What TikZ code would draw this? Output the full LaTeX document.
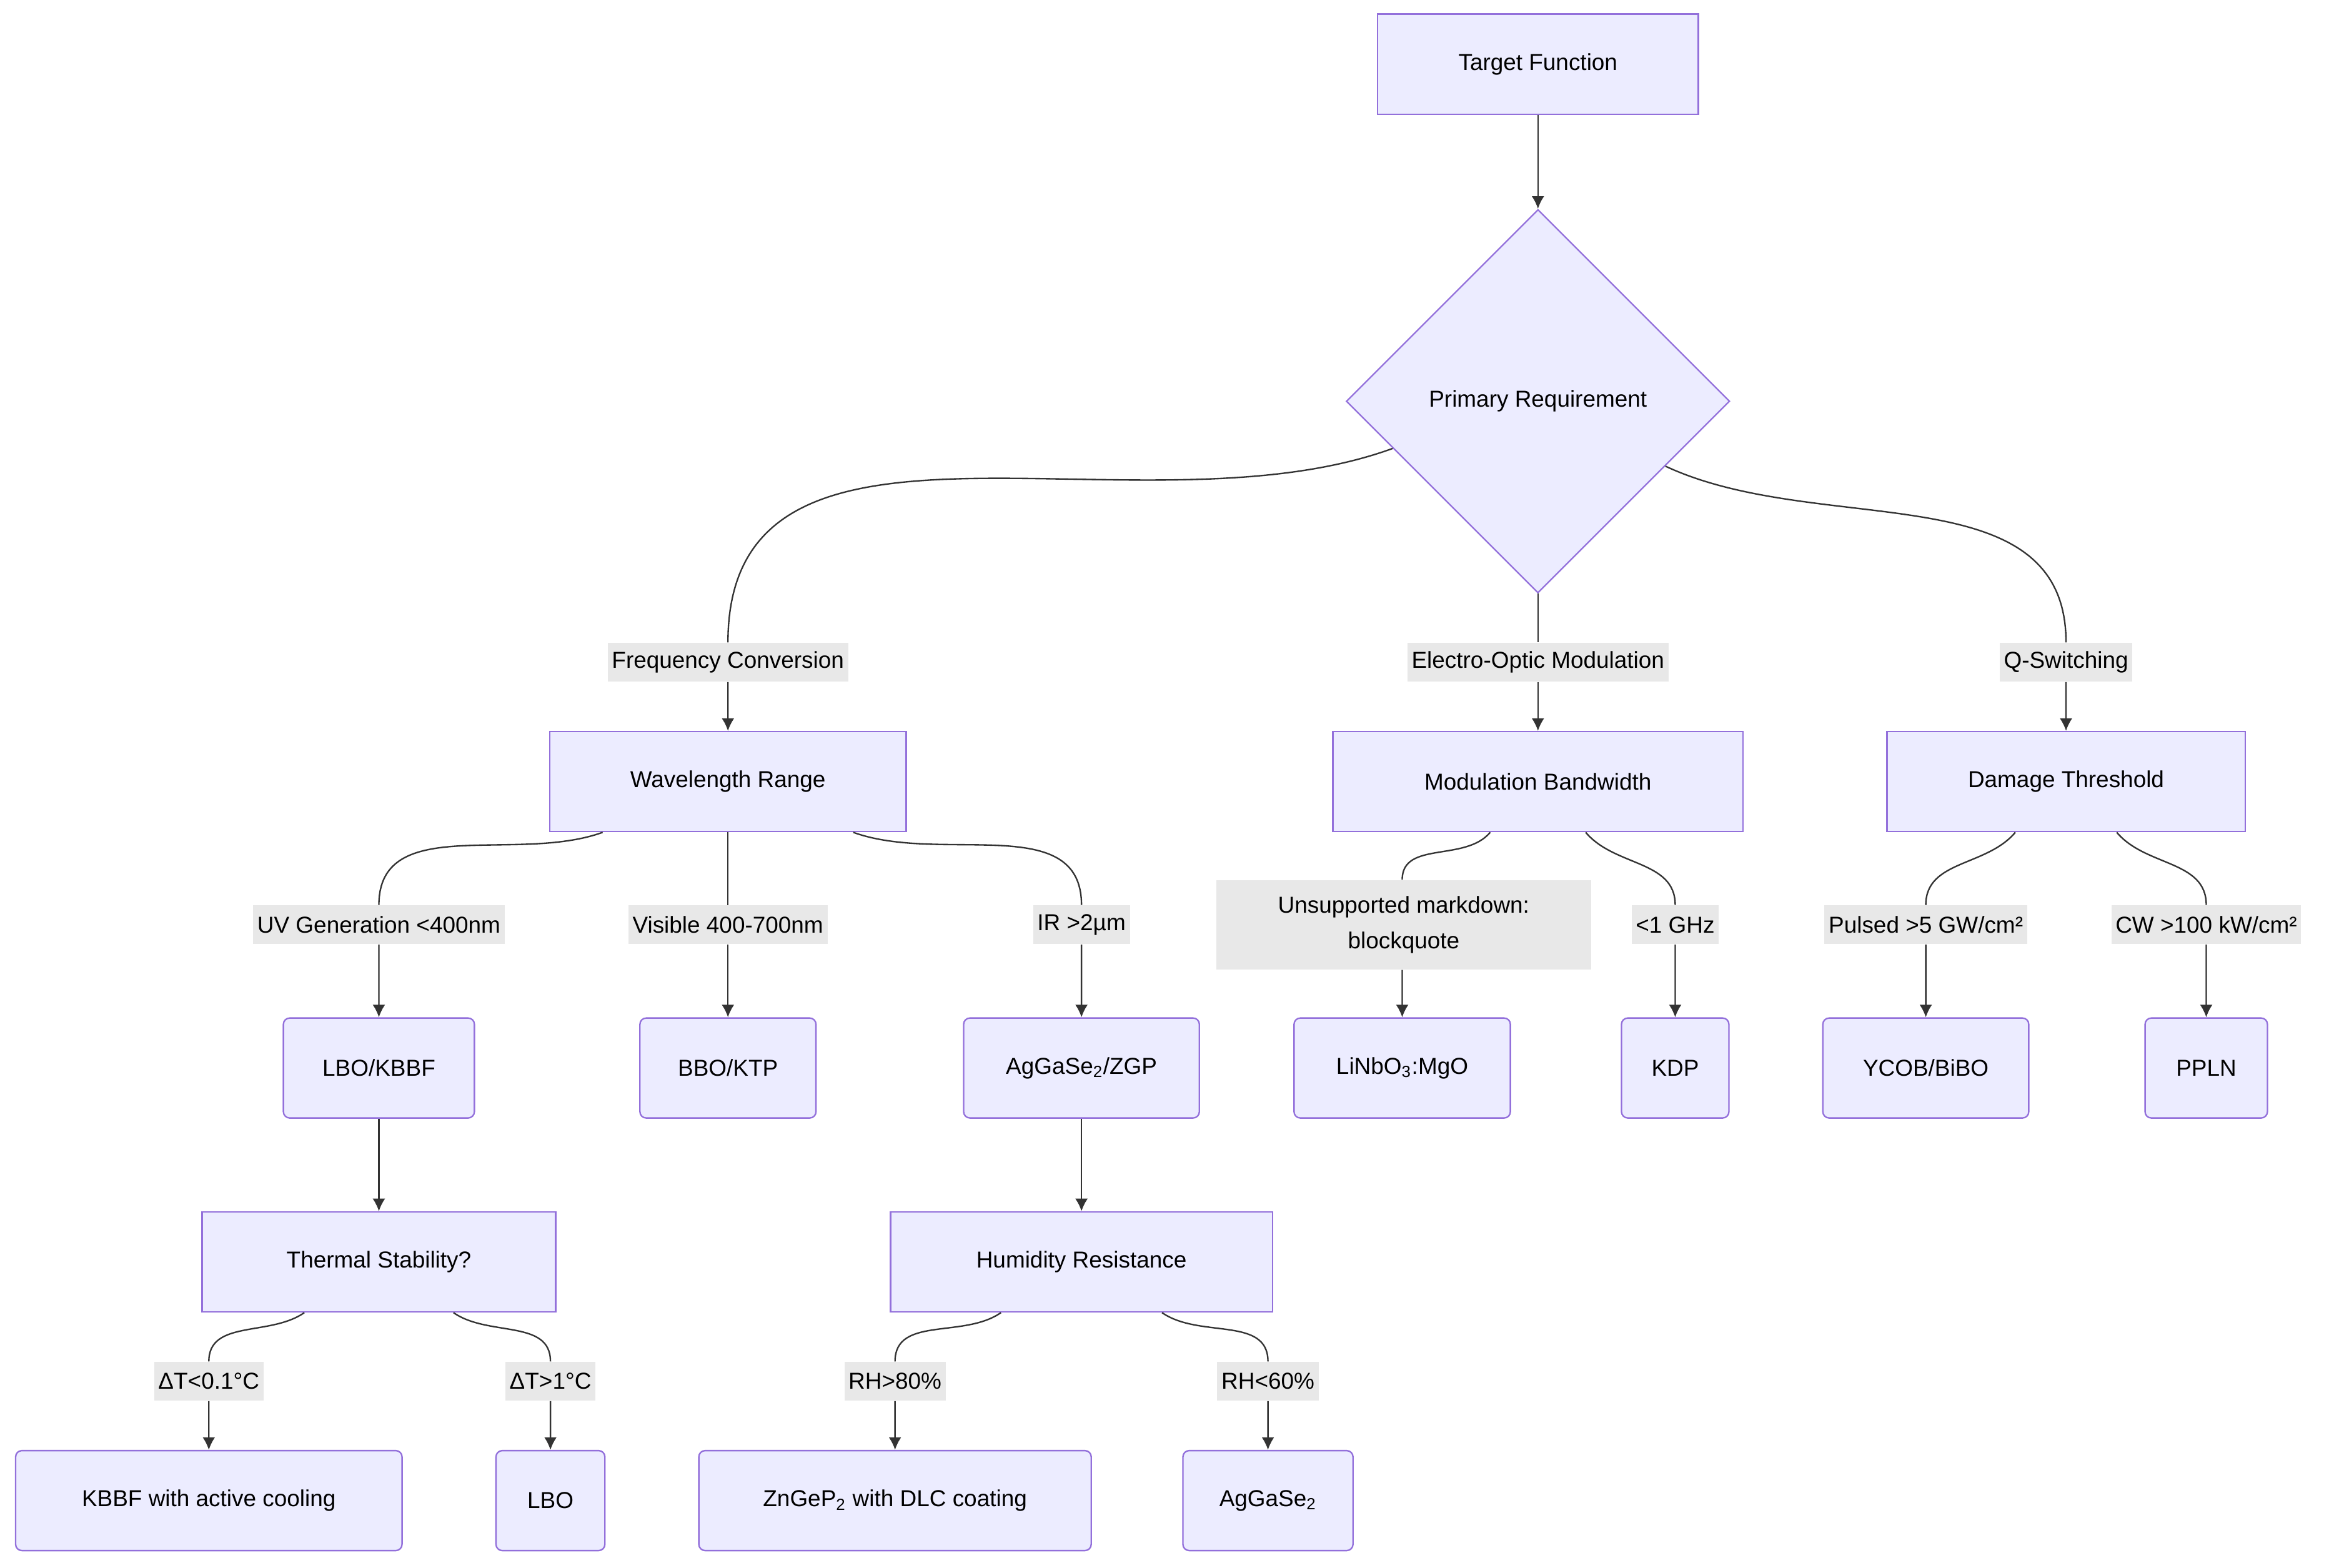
\documentclass[tikz,border=0pt]{standalone}
\usepackage{fontspec}
\setmainfont{Liberation Sans}
\usetikzlibrary{shapes.geometric,arrows.meta,calc,positioning}
\definecolor{boxfill}{HTML}{ECECFF}
\definecolor{boxline}{HTML}{9370DB}
\definecolor{lblfill}{HTML}{E8E8E8}
\definecolor{edgecol}{HTML}{333333}
\begin{document}
\begin{tikzpicture}[x=0.025cm,y=0.025cm,font=\fontsize{11}{17}\selectfont]

\tikzset{box/.style={fill=boxfill, draw=boxline, line width=0.7pt, minimum height=1.675cm, inner sep=2pt}}
\tikzset{leaf/.style={box, rounded corners=3pt}}
\tikzset{dec/.style={box, diamond, aspect=1, minimum width=6.425cm, minimum height=6.425cm, inner sep=0pt}}
\tikzset{lbl/.style={fill=lblfill, inner sep=2pt, minimum height=0.65cm, align=center}}
\tikzset{arrow/.style={-{Latex[length=6pt,width=6pt]}, edgecol, line width=0.7pt}}

\useasboundingbox (0,0) rectangle (1568,-1051);

% top
\node [box, minimum width=5.375cm] (tf) at (1031,-43) {Target Function};
\node [dec] (pr) at (1031,-269) {Primary Requirement};

% second level
\node [box, minimum width=5.975cm] (wr) at (488,-524) {Wavelength Range};
\node [box, minimum width=6.875cm] (mb) at (1031,-524) {Modulation Bandwidth};
\node [box, minimum width=6cm] (dt) at (1385,-524) {Damage Threshold};

\node [lbl] (lFC) at (488,-444) {Frequency Conversion};
\node [lbl] (lEOM) at (1031,-444) {Electro-Optic Modulation};
\node [lbl] (lQS) at (1385,-444) {Q-Switching};

% crystals
\node [leaf, minimum width=3.2cm] (lbokbbf) at (254,-716) {LBO/KBBF};
\node [leaf, minimum width=2.95cm] (bbo) at (488,-716) {BBO/KTP};
\node [leaf, minimum width=3.95cm] (agzgp) at (725,-716) {AgGaSe\textsubscript{2}/ZGP};
\node [leaf, minimum width=3.625cm] (lin) at (940,-716) {LiNbO\textsubscript{3}:MgO};
\node [leaf, minimum width=1.8cm] (kdp) at (1123,-716) {KDP};
\node [leaf, minimum width=3.45cm] (ycob) at (1291,-716) {YCOB/BiBO};
\node [leaf, minimum width=2.05cm] (ppln) at (1479,-716) {PPLN};

\node [lbl] (lUV) at (254,-620) {UV Generation <400nm};
\node [lbl] (lVis) at (488,-620) {Visible 400-700nm};
\node [lbl] (lIR) at (725,-620) {IR >2µm};
\node [lbl, minimum width=6.275cm, minimum height=1.5cm] (lUM) at (941,-620) {Unsupported markdown:\\blockquote};
\node [lbl] (lGHz) at (1123,-620) {<1 GHz};
\node [lbl] (lPul) at (1291,-620) {Pulsed >5 GW/cm²};
\node [lbl] (lCW) at (1479,-620) {CW >100 kW/cm²};

% checks
\node [box, minimum width=5.925cm] (ts) at (254,-846) {Thermal Stability?};
\node [box, minimum width=6.4cm] (hr) at (725,-846) {Humidity Resistance};

\node [leaf, minimum width=6.475cm] (kbbf) at (140,-1006) {KBBF with active cooling};
\node [leaf, minimum width=1.825cm] (lbo) at (369,-1006) {LBO};
\node [leaf, minimum width=6.575cm] (zgp) at (600,-1006) {ZnGeP\textsubscript{2} with DLC coating};
\node [leaf, minimum width=2.85cm] (ags) at (850,-1006) {AgGaSe\textsubscript{2}};

\node [lbl] (lT1) at (140,-926) {ΔT<0.1°C};
\node [lbl] (lT2) at (369,-926) {ΔT>1°C};
\node [lbl] (lRH1) at (600,-926) {RH>80\%};
\node [lbl] (lRH2) at (850,-926) {RH<60\%};

% edges
\draw[arrow] (tf) -- (pr);
\draw[arrow] (pr.198) to[out=-160,in=90] (lFC.north) (lFC.south) -- (wr.north);
\draw[arrow] (pr.south) -- (lEOM.north) (lEOM.south) -- (mb.north);
\draw[arrow] (pr.-27) to[out=-25,in=90] (lQS.north) (lQS.south) -- (dt.north);

\draw[arrow] ($(wr.south)+(-84,0)$) to[out=-160,in=90] (lUV.north) (lUV.south) -- (lbokbbf.north);
\draw[arrow] (wr.south) -- (lVis.north) (lVis.south) -- (bbo.north);
\draw[arrow] ($(wr.south)+(84,0)$) to[out=-20,in=90] (lIR.north) (lIR.south) -- (agzgp.north);

\draw[arrow] ($(mb.south)+(-32,0)$) to[out=-130,in=90] ($(lUM.north)+(-1,0)$) ($(lUM.south)+(-1,0)$) -- (lin.north);
\draw[arrow] ($(mb.south)+(32,0)$) to[out=-50,in=90] (lGHz.north) (lGHz.south) -- (kdp.north);

\draw[arrow] ($(dt.south)+(-34,0)$) to[out=-130,in=90] (lPul.north) (lPul.south) -- (ycob.north);
\draw[arrow] ($(dt.south)+(34,0)$) to[out=-50,in=90] (lCW.north) (lCW.south) -- (ppln.north);

\draw[arrow] (lbokbbf) -- (ts);
\draw[arrow] (agzgp) -- (hr);

\draw[arrow] ($(ts.south)+(-50,0)$) to[out=-145,in=90] (lT1.north) (lT1.south) -- (kbbf.north);
\draw[arrow] ($(ts.south)+(50,0)$) to[out=-35,in=90] (lT2.north) (lT2.south) -- (lbo.north);
\draw[arrow] ($(hr.south)+(-54,0)$) to[out=-145,in=90] (lRH1.north) (lRH1.south) -- (zgp.north);
\draw[arrow] ($(hr.south)+(54,0)$) to[out=-35,in=90] (lRH2.north) (lRH2.south) -- (ags.north);

\end{tikzpicture}
\end{document}
